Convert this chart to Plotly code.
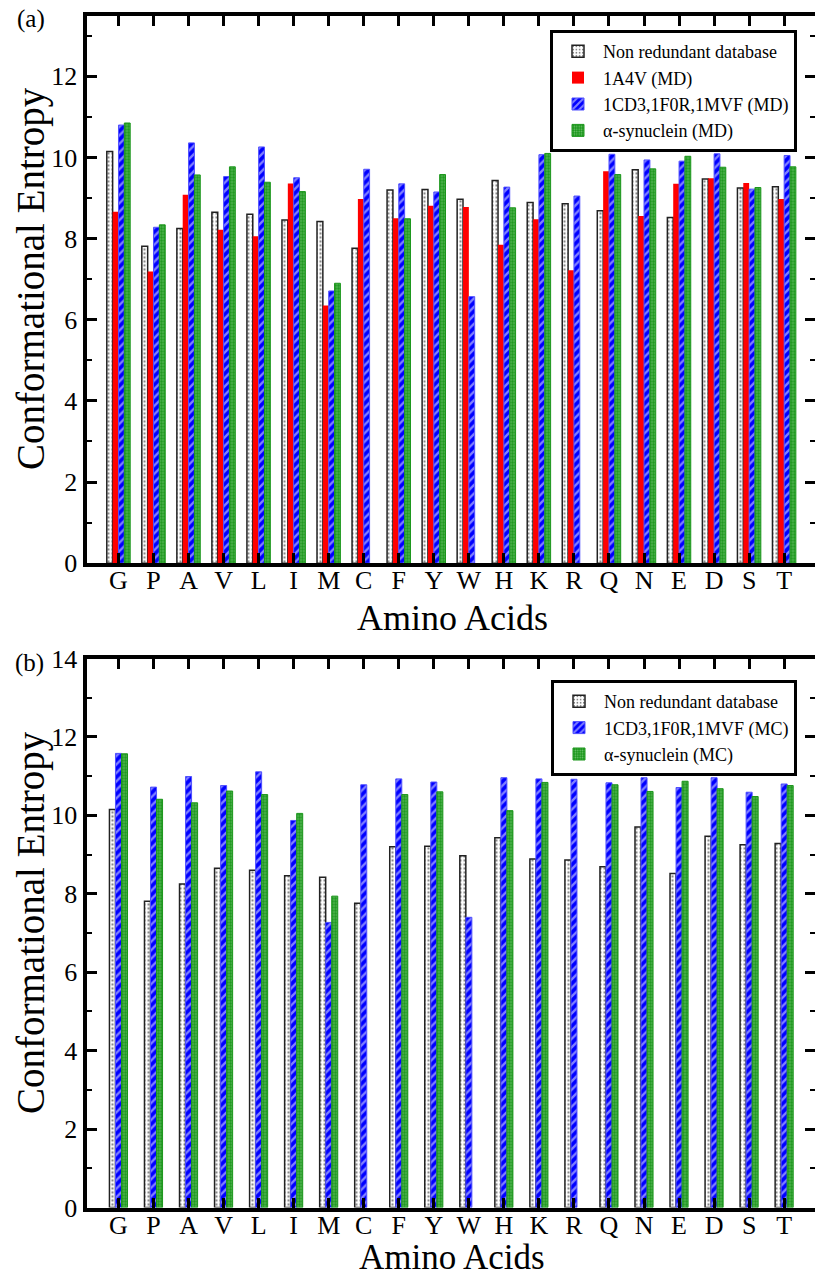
import plotly.graph_objects as go

amino = ["G", "P", "A", "V", "L", "I", "M", "C", "F", "Y",
         "W", "H", "K", "R", "Q", "N", "E", "D", "S", "T"]

nonredundant = [10.15, 7.81, 8.25, 8.65, 8.60, 8.46, 8.42, 7.76, 9.20, 9.21,
                8.97, 9.43, 8.89, 8.86, 8.69, 9.70, 8.52, 9.47, 9.25, 9.28]
md_1a4v = [8.66, 7.19, 9.08, 8.22, 8.06, 9.36, 6.35, 8.98, 8.50, 8.81,
           8.78, 7.85, 8.48, 7.22, 9.66, 8.56, 9.35, 9.49, 9.37, 8.98]
md_1cd3 = [10.80, 8.28, 10.36, 9.53, 10.26, 9.50, 6.71, 9.71, 9.35, 9.15,
           6.57, 9.27, 10.07, 9.05, 10.08, 9.94, 9.91, 10.09, 9.22, 10.05]
md_syn = [10.85, 8.34, 9.57, 9.77, 9.39, 9.16, 6.90, None, 8.49, 9.58,
          None, 8.76, 10.10, None, 9.58, 9.72, 10.03, 9.76, 9.26, 9.77]
mc_1cd3 = [11.58, 10.72, 10.99, 10.76, 11.11, 9.87, 7.27, 10.78, 10.93, 10.85,
           7.40, 10.96, 10.93, 10.92, 10.83, 10.96, 10.71, 10.96, 10.59, 10.80]
mc_syn = [11.57, 10.41, 10.32, 10.62, 10.53, 10.05, 7.94, None, 10.53, 10.60,
          None, 10.12, 10.84, None, 10.78, 10.61, 10.87, 10.68, 10.48, 10.76]

names_top = ["Non redundant database", "1A4V (MD)", "1CD3,1F0R,1MVF (MD)", "\u03b1-synuclein (MD)"]
names_bot = ["Non redundant database", "1CD3,1F0R,1MVF (MC)", "\u03b1-synuclein (MC)"]

FONT = "Liberation Serif"
W, H = 815, 1279
GREEN = "#1b961b"

def style(kind):
    if kind == "nr":
        return dict(color="white",
                    pattern=dict(shape=".", fgcolor="black", bgcolor="white", size=4, solidity=0.25),
                    line=dict(color="#222222", width=1.5))
    if kind == "red":
        return dict(color="#ff0000", line=dict(width=0))
    if kind == "blue":
        return dict(color="#0000ff",
                    pattern=dict(shape="/", fgcolor="white", bgcolor="#0000ff", size=6, solidity=0.4),
                    line=dict(color="#5050ff", width=1))
    return dict(color=GREEN,
                pattern=dict(shape=".", fgcolor="#c8f0c8", bgcolor=GREEN, size=3, solidity=0.3),
                line=dict(color=GREEN, width=1))

fig = go.Figure()

w1 = 0.167
for i, (vals, kind, nm) in enumerate(zip([nonredundant, md_1a4v, md_1cd3, md_syn],
                                        ["nr", "red", "blue", "green"], names_top)):
    fig.add_trace(go.Bar(x=amino, y=vals, name=nm, width=w1, offset=(i - 2) * w1,
                         marker=style(kind), xaxis="x", yaxis="y", legend="legend"))

w2 = 0.172
for i, (vals, kind, nm) in enumerate(zip([nonredundant, mc_1cd3, mc_syn],
                                        ["nr", "blue", "green"], names_bot)):
    fig.add_trace(go.Bar(x=amino, y=vals, name=nm, width=w2, offset=(i - 1.5) * w2,
                         marker=style(kind), xaxis="x2", yaxis="y2", legend="legend2"))

xdom = [86.5 / W, 1.0]
ydom_top = [1 - 563.2 / H, 1 - 15.5 / H]
ydom_bot = [1 - 1207.5 / H, 1 - 658.5 / H]

def xax(anchor):
    return dict(domain=xdom, anchor=anchor, type="category", range=[-0.913, 19.88],
                showline=True, linewidth=4, linecolor="black", mirror="ticks",
                ticks="inside", ticklen=10, tickwidth=2.5, tickcolor="black",
                showgrid=False, zeroline=False, automargin=False,
                ticklabelstandoff=-9,
                tickfont=dict(family=FONT, size=26, color="black"))

def yax(anchor, dom, top):
    return dict(domain=dom, anchor=anchor, range=[0, top], dtick=2, tick0=0,
                showline=True, linewidth=4, linecolor="black", mirror="ticks",
                ticks="inside", ticklen=10, tickwidth=3, tickcolor="black",
                minor=dict(ticks="inside", ticklen=5, tickwidth=1.5, dtick=1, tickcolor="black"),
                showgrid=False, zeroline=False, automargin=False,
                tickfont=dict(family=FONT, size=26, color="black"))

legend_common = dict(font=dict(family=FONT, size=18, color="black"),
                     bordercolor="black", borderwidth=3, bgcolor="white",
                     xanchor="right", yanchor="top", x=797 / W, itemwidth=40)

annotations = [
    dict(text="Conformational Entropy", x=31 / W, y=1 - 279 / H, textangle=-90,
         font=dict(family=FONT, size=39, color="black")),
    dict(text="Conformational Entropy", x=31 / W, y=1 - 923 / H, textangle=-90,
         font=dict(family=FONT, size=39, color="black")),
    dict(text="Amino Acids", x=452 / W, y=1 - 618 / H,
         font=dict(family=FONT, size=36, color="black")),
    dict(text="Amino Acids", x=452 / W, y=1 - 1257 / H,
         font=dict(family=FONT, size=35, color="black")),
    dict(text="(a)", x=31 / W, y=1 - 19 / H, font=dict(family=FONT, size=25, color="black")),
    dict(text="(b)", x=29 / W, y=1 - 663 / H, font=dict(family=FONT, size=25, color="black")),
]
for a in annotations:
    a.update(xref="paper", yref="paper", showarrow=False, xanchor="center", yanchor="middle")

fig.update_layout(
    width=W, height=H, autosize=False,
    margin=dict(l=0, r=0, t=0, b=0, pad=0, autoexpand=False),
    font=dict(family=FONT, color="black"),
    paper_bgcolor="white", plot_bgcolor="white",
    barmode="overlay",
    xaxis=xax("y"), yaxis=yax("x", ydom_top, 13.5),
    xaxis2=xax("y2"), yaxis2=yax("x2", ydom_bot, 14),
    legend=dict(y=1 - 30 / H, **legend_common),
    legend2=dict(y=1 - 680 / H, **legend_common),
    annotations=annotations,
)

fig.write_html("out.html")
